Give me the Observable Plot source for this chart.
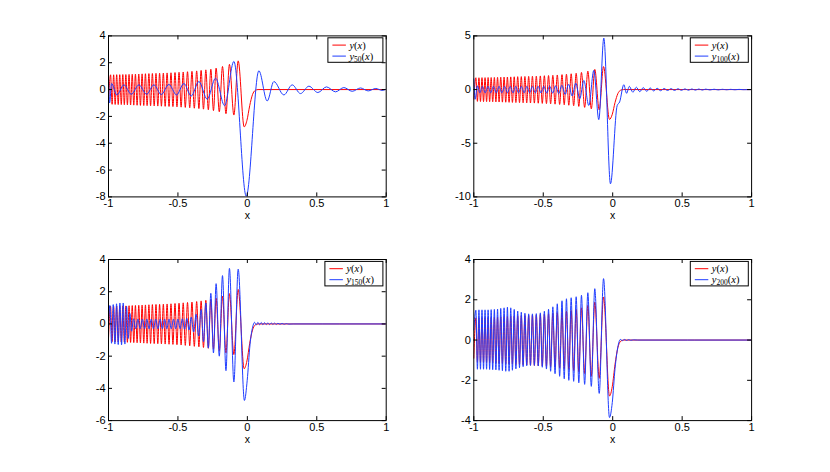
<!DOCTYPE html>
<html><head><meta charset="utf-8">
<script src="https://cdn.jsdelivr.net/npm/d3@7"></script>
<script src="https://cdn.jsdelivr.net/npm/@observablehq/plot@0.6"></script>
<style>
body{margin:0;background:#fff;}
#wrap{position:relative;width:830px;height:472px;background:#fff;}
#wrap > .cell{position:absolute;}
</style></head><body><div id="wrap"></div>
<script>
// ---- data (extrema of the curves) ----
const xTicks = [-1, -0.5, 0, 0.5, 1];
const yTicks50 = [-8, -6, -4, -2, 0, 2, 4];
const yTicks100 = [-10, -5, 0, 5];
const yTicks150 = [-6, -4, -2, 0, 2, 4];
const yTicks200 = [-4, -2, 0, 2, 4];
const seriesNames = ["50", "100", "150", "200"];

const yExact = [[-1,-0.9],
[-0.985,1.10],[-0.974,-1.10],[-0.963,1.10],[-0.952,-1.11],[-0.941,1.11],[-0.930,-1.12],
[-0.919,1.11],[-0.908,-1.12],[-0.897,1.12],[-0.886,-1.13],[-0.875,1.12],[-0.864,-1.14],
[-0.852,1.13],[-0.841,-1.15],[-0.829,1.14],[-0.818,-1.16],[-0.806,1.15],[-0.794,-1.17],
[-0.782,1.16],[-0.770,-1.18],[-0.758,1.17],[-0.746,-1.19],[-0.734,1.18],[-0.722,-1.20],
[-0.709,1.19],[-0.697,-1.21],[-0.684,1.20],[-0.671,-1.22],[-0.658,1.21],[-0.645,-1.23],
[-0.632,1.22],[-0.619,-1.24],[-0.605,1.23],[-0.592,-1.25],[-0.578,1.24],[-0.564,-1.26],
[-0.550,1.25],[-0.536,-1.27],[-0.521,1.27],[-0.507,-1.29],[-0.492,1.29],[-0.477,-1.31],
[-0.462,1.31],[-0.447,-1.33],[-0.431,1.33],[-0.415,-1.36],[-0.399,1.36],[-0.382,-1.39],
[-0.365,1.39],[-0.349,-1.42],[-0.333,1.43],[-0.316,-1.46],[-0.299,1.47],[-0.281,-1.51],
[-0.263,1.52],[-0.244,-1.57],[-0.225,1.60],[-0.202,-1.66],[-0.179,1.72],[-0.154,-1.80],
[-0.129,1.88],[-0.097,-1.90],[-0.066,2.14],[-0.023,-2.78],
[-0.003,-2.30],[0.017,-1.20],[0.037,-0.38],[0.057,-0.06],[0.077,0],[1,0]];

const y50 = [[-1,1.0],[-0.992,-1.0],[-0.978,0.45],[-0.94,-0.4],[-0.889,0.35],[-0.836,-0.35],
[-0.781,0.35],[-0.726,-0.35],[-0.673,0.35],[-0.62,-0.37],[-0.565,0.38],[-0.51,-0.4],
[-0.457,0.45],[-0.404,-0.48],[-0.349,0.6],[-0.289,-0.72],[-0.229,0.85],[-0.164,-1.2],
[-0.097,2.1],[-0.008,-7.95],[0.083,1.4],[0.143,-0.85],[0.191,0.6],[0.263,-0.4],[0.323,0.35],
[0.383,-0.3],[0.443,0.25],[0.508,-0.22],[0.57,0.2],[0.635,-0.17],[0.695,0.15],[0.755,-0.13],
[0.815,0.12],[0.87,-0.1],[0.925,0.08],[0.97,-0.06],[1,0.03]];

const y100 = [[-1,1.0],[-0.99,-0.9],[-0.975,0.35],[-0.956,-0.3],[-0.938,0.3],[-0.918,-0.3],
[-0.898,0.3],[-0.878,-0.3],[-0.858,0.3],[-0.838,-0.3],[-0.818,0.3],[-0.798,-0.3],[-0.778,0.3],
[-0.758,-0.3],[-0.738,0.3],[-0.718,-0.3],[-0.698,0.3],[-0.678,-0.3],[-0.658,0.3],[-0.638,-0.3],
[-0.618,0.3],[-0.598,-0.3],[-0.578,0.3],[-0.557,-0.3],[-0.537,0.3],[-0.516,-0.31],[-0.496,0.31],
[-0.475,-0.32],[-0.454,0.32],[-0.432,-0.33],[-0.411,0.35],[-0.388,-0.38],[-0.366,0.4],
[-0.342,-0.45],[-0.318,0.5],[-0.292,-0.6],[-0.266,0.6],[-0.237,-0.85],[-0.208,0.85],
[-0.172,-1.48],[-0.136,1.78],[-0.1,-2.8],[-0.064,4.79],[-0.016,-8.78],[0.032,-1.5],[0.05,-1.15],
[0.08,0.45],[0.1,-0.35],[0.12,0.3],[0.145,-0.25],[0.17,0.22],[0.195,-0.2],[0.22,0.18],
[0.245,-0.16],[0.27,0.15],[0.295,-0.13],[0.32,0.12],[0.345,-0.11],[0.37,0.1],[0.395,-0.09],
[0.42,0.085],[0.445,-0.08],[0.47,0.075],[0.495,-0.07],[0.52,0.065],[0.545,-0.06],[0.57,0.055],
[0.595,-0.05],[0.62,0.05],[0.645,-0.045],[0.67,0.04],[0.7,-0.035],[0.73,0.03],[0.76,-0.03],
[0.79,0.025],[0.82,-0.02],[0.85,0.02],[0.88,-0.02],[0.91,0.015],[0.94,-0.01],[1,0]];

const y150 = [[-1,0],[-0.99,1.15],[-0.978,-1.2],[-0.966,1.2],[-0.954,-1.25],[-0.942,1.25],
[-0.93,-1.28],[-0.918,1.3],[-0.906,-1.3],[-0.894,1.3],[-0.882,-1.25],[-0.87,1.1],[-0.858,-0.9],
[-0.846,0.65],[-0.834,-0.45],[-0.82,0.32],[-0.804,-0.3],[-0.788,0.3],[-0.772,-0.3],[-0.756,0.3],
[-0.74,-0.3],[-0.724,0.3],[-0.708,-0.3],[-0.692,0.3],[-0.676,-0.3],[-0.66,0.3],[-0.644,-0.3],
[-0.628,0.3],[-0.612,-0.3],[-0.596,0.3],[-0.58,-0.3],[-0.564,0.3],[-0.548,-0.3],[-0.532,0.3],
[-0.516,-0.3],[-0.5,0.3],[-0.484,-0.3],[-0.468,0.32],[-0.452,-0.33],[-0.436,0.35],[-0.42,-0.38],
[-0.404,0.42],[-0.387,-0.5],[-0.369,0.6],[-0.351,-0.75],[-0.333,0.9],[-0.316,-1.1],[-0.299,1.3],
[-0.281,-1.5],[-0.263,1.9],[-0.244,-1.8],[-0.225,2.5],[-0.202,-2.0],[-0.179,3.0],[-0.154,-2.9],
[-0.129,3.45],[-0.097,-3.6],[-0.066,3.4],[-0.021,-4.75],[-0.001,-3.5],[0.019,-1.3],[0.038,-0.2],
[0.052,0.1],[0.064,-0.06],[0.076,0.1],[0.088,-0.05],[0.1,0.09],[0.112,-0.05],[0.124,0.08],
[0.136,-0.04],[0.148,0.07],[0.16,-0.04],[0.172,0.06],[0.184,-0.03],[0.196,0.05],[0.208,-0.03],
[0.22,0.04],[0.235,-0.02],[0.25,0.03],[0.265,-0.02],[0.28,0.02],[0.3,-0.01],[0.33,0],[1,0]];

const y200 = [[-1,0.5],
[-0.985,1.48],[-0.974,-1.45],[-0.963,1.50],[-0.952,-1.45],[-0.941,1.50],[-0.930,-1.45],
[-0.919,1.50],[-0.908,-1.45],[-0.897,1.50],[-0.886,-1.46],[-0.875,1.51],[-0.864,-1.47],
[-0.852,1.52],[-0.841,-1.48],[-0.829,1.54],[-0.818,-1.50],[-0.806,1.57],[-0.794,-1.52],
[-0.782,1.60],[-0.770,-1.55],[-0.758,1.63],[-0.746,-1.55],[-0.734,1.60],[-0.722,-1.50],
[-0.709,1.52],[-0.697,-1.43],[-0.684,1.44],[-0.671,-1.37],[-0.658,1.38],[-0.645,-1.32],
[-0.632,1.33],[-0.619,-1.28],[-0.605,1.30],[-0.592,-1.26],[-0.578,1.30],[-0.564,-1.26],
[-0.550,1.31],[-0.536,-1.29],[-0.521,1.35],[-0.507,-1.35],[-0.492,1.43],[-0.477,-1.44],
[-0.462,1.53],[-0.447,-1.55],[-0.431,1.65],[-0.415,-1.67],[-0.399,1.80],[-0.382,-1.80],
[-0.365,1.95],[-0.349,-1.92],[-0.333,2.05],[-0.316,-2.0],[-0.299,2.10],[-0.281,-2.05],
[-0.263,2.15],[-0.244,-2.12],[-0.225,2.22],[-0.202,-2.2],[-0.179,2.35],[-0.154,-2.3],
[-0.129,2.55],[-0.097,-2.65],[-0.066,3.05],[-0.023,-3.85],
[-0.003,-3.1],[0.017,-1.4],[0.037,-0.35],[0.055,0.03],[0.07,-0.03],[0.085,0.03],[0.1,-0.02],
[0.115,0.02],[0.13,-0.01],[0.15,0.01],[0.18,0],[1,0]];

// ---- layout ----
const W = 415, H = 236;
const panels = [
  {series: y50,  name: seriesNames[0], yDomain: [-8, 4],  yTicks: yTicks50,  left: 0,   top: 0,   ml: 108,  mr: 29.3, mt: 35.4, mb: 39.6, lw: 55},
  {series: y100, name: seriesNames[1], yDomain: [-10, 5], yTicks: yTicks100, left: 415, top: 0,   ml: 58.3, mr: 78.9, mt: 35.4, mb: 39.6, lw: 58},
  {series: y150, name: seriesNames[2], yDomain: [-6, 4],  yTicks: yTicks150, left: 0,   top: 236, ml: 108,  mr: 29.3, mt: 23,   mb: 51.9, lw: 58},
  {series: y200, name: seriesNames[3], yDomain: [-4, 4],  yTicks: yTicks200, left: 415, top: 236, ml: 58.3, mr: 78.9, mt: 23,   mb: 51.9, lw: 58}
];
const RED = "#ff0000", BLUE = "#1f3dff";
const wrap = document.getElementById("wrap");

for (const p of panels) {
  const pw = W - p.ml - p.mr, ph = H - p.mt - p.mb;
  const svg = Plot.plot({
    width: W, height: H,
    marginLeft: p.ml, marginRight: p.mr, marginTop: p.mt, marginBottom: p.mb,
    x: {domain: [-1, 1]},
    y: {domain: p.yDomain},
    style: {fontFamily: "'Liberation Sans', Arial, Helvetica, sans-serif", fontSize: "11px", color: "#000", background: "#fff", overflow: "visible"},
    marks: [
      Plot.line(yExact, {stroke: RED, strokeWidth: 1, curve: "monotone-x", clip: true}),
      Plot.line(p.series, {stroke: BLUE, strokeWidth: 1, curve: "monotone-x", clip: true}),
      Plot.frame({stroke: "#000", strokeWidth: 1}),
      Plot.tickX(xTicks, {x: d => d, insetTop: ph - 4, stroke: "#000"}),
      Plot.tickX(xTicks, {x: d => d, insetBottom: ph - 4, stroke: "#000"}),
      Plot.tickY(p.yTicks, {y: d => d, insetRight: pw - 4, stroke: "#000"}),
      Plot.tickY(p.yTicks, {y: d => d, insetLeft: pw - 4, stroke: "#000"}),
      Plot.axisX({ticks: xTicks, tickSize: 0, tickPadding: 2.5, tickFormat: d => String(d), label: null}),
      Plot.axisY({ticks: p.yTicks, tickSize: 0, tickPadding: 3, tickFormat: d => String(d), label: null}),
      Plot.text(["x"], {text: d => d, frameAnchor: "bottom", lineAnchor: "middle", dy: 19, fontSize: 10.5})
    ]
  });
  // legend box (top-right inside the axes)
  const s = d3.select(svg);
  const bw = p.lw, bh = 24.5;
  const bx = p.ml + pw - 2.8 - bw, by = p.mt + 2.4;
  const g = s.append("g")
    .attr("font-family", "'Liberation Serif', 'DejaVu Serif', serif")
    .attr("font-size", 10.5)
    .attr("text-anchor", "start");
  g.append("rect").attr("x", bx).attr("y", by).attr("width", bw).attr("height", bh)
    .attr("fill", "#fff").attr("stroke", "#000").attr("stroke-width", 1);
  const rows = [{c: RED, sub: null, yy: by + 7.3}, {c: BLUE, sub: p.name, yy: by + 18.3}];
  for (const r of rows) {
    g.append("line").attr("x1", bx + 4.5).attr("x2", bx + 18).attr("y1", r.yy).attr("y2", r.yy)
      .attr("stroke", r.c).attr("stroke-width", 1);
    const t = g.append("text").attr("x", bx + 21.5).attr("y", r.yy + 3.5)
      .attr("fill", "#000").attr("text-anchor", "start");
    t.append("tspan").attr("font-style", "italic").text("y");
    if (r.sub) t.append("tspan").attr("font-size", 7.5).attr("dy", 2.2).text(r.sub);
    const t2 = t.append("tspan").text("(");
    if (r.sub) t2.attr("dy", -2.2);
    t.append("tspan").attr("font-style", "italic").text("x");
    t.append("tspan").text(")");
  }
  const cell = document.createElement("div");
  cell.className = "cell";
  cell.style.left = p.left + "px";
  cell.style.top = p.top + "px";
  cell.appendChild(svg);
  wrap.appendChild(cell);
}
</script>
</body></html>
